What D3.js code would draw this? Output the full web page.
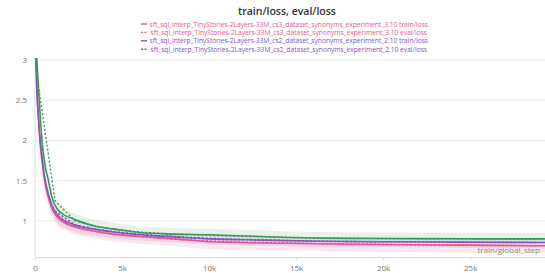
<!DOCTYPE html>
<html>
<head>
<meta charset="utf-8">
<script src="https://cdn.jsdelivr.net/npm/d3@7"></script>
<style>
  body { margin: 0; background: #fff; }
  text { font-family: "Open Sans", "Noto Sans", sans-serif; }
</style>
</head>
<body>
<script>
// train steps and smoothed values
var steps = [0, 100, 200, 300, 400, 550, 770, 960, 1300, 1620, 2000, 2600, 3540, 4500, 6000, 8000, 10000, 13000, 16400, 20000, 23000, 26000, 29300];
var greenTrain = [3.6, 3.05, 2.65, 2.3, 2.0, 1.72, 1.5, 1.3, 1.14, 1.08, 1.04, 0.99, 0.93, 0.9, 0.855, 0.835, 0.826, 0.805, 0.785, 0.78, 0.778, 0.776, 0.775];
var purpleTrain = [3.5, 2.7, 2.3, 2.0, 1.8, 1.55, 1.33, 1.2, 1.07, 1.01, 0.97, 0.93, 0.89, 0.86, 0.826, 0.8, 0.776, 0.76, 0.745, 0.74, 0.736, 0.733, 0.73];
var pinkTrain = [3.5, 2.65, 2.25, 1.95, 1.75, 1.5, 1.29, 1.16, 1.04, 0.985, 0.945, 0.905, 0.865, 0.835, 0.805, 0.775, 0.74, 0.725, 0.715, 0.705, 0.7, 0.695, 0.69];

// raw (unsmoothed) spread, upper/lower envelope
var greenHi = [3.6, 3.1, 2.75, 2.4, 2.1, 1.82, 1.6, 1.4, 1.24, 1.17, 1.12, 1.07, 1.01, 0.975, 0.93, 0.91, 0.9, 0.88, 0.86, 0.855, 0.853, 0.85, 0.85];
var greenLo = [3.6, 3.0, 2.6, 2.25, 1.95, 1.68, 1.46, 1.26, 1.1, 1.04, 1.0, 0.95, 0.89, 0.86, 0.815, 0.795, 0.786, 0.765, 0.745, 0.74, 0.738, 0.736, 0.735];
var purpleHi = [3.5, 2.75, 2.35, 2.05, 1.85, 1.6, 1.38, 1.25, 1.12, 1.06, 1.02, 0.98, 0.935, 0.9, 0.865, 0.84, 0.815, 0.8, 0.785, 0.78, 0.776, 0.773, 0.77];
var purpleLo = [3.5, 2.6, 2.2, 1.9, 1.7, 1.45, 1.23, 1.1, 0.97, 0.92, 0.88, 0.84, 0.81, 0.78, 0.755, 0.73, 0.706, 0.69, 0.675, 0.67, 0.666, 0.663, 0.66];
var pinkHi = [3.5, 2.7, 2.3, 2.0, 1.8, 1.55, 1.33, 1.2, 1.08, 1.02, 0.98, 0.94, 0.895, 0.865, 0.835, 0.805, 0.77, 0.755, 0.745, 0.735, 0.73, 0.725, 0.72];
var pinkLo = [3.5, 2.55, 2.15, 1.85, 1.65, 1.4, 1.19, 1.06, 0.94, 0.89, 0.855, 0.815, 0.775, 0.745, 0.715, 0.685, 0.65, 0.635, 0.625, 0.615, 0.61, 0.605, 0.6];

// eval points
var evalSteps = [0, 1150, 2300, 3450, 4600, 5750, 6900, 8050, 9200, 10350, 11500, 12650, 13800, 14950, 16100, 17250, 18400, 19550, 20700, 21850, 23000, 24150, 25300, 26450, 27600, 28750];
var greenEval = [2.98, 1.25, 1.0, 0.935, 0.895, 0.865, 0.848, 0.836, 0.826, 0.818, 0.81, 0.804, 0.798, 0.793, 0.789, 0.786, 0.783, 0.781, 0.779, 0.778, 0.777, 0.776, 0.775, 0.775, 0.774, 0.774];
var purpleEval = [null, 1.12, 0.95, 0.9, 0.865, 0.84, 0.82, 0.805, 0.79, 0.78, 0.772, 0.765, 0.759, 0.753, 0.748, 0.745, 0.742, 0.74, 0.738, 0.737, 0.736, 0.735, 0.734, 0.733, 0.732, 0.731];
var pinkEval = [null, 1.09, 0.925, 0.87, 0.835, 0.81, 0.79, 0.772, 0.758, 0.748, 0.74, 0.733, 0.727, 0.722, 0.717, 0.713, 0.71, 0.707, 0.704, 0.702, 0.7, 0.698, 0.696, 0.694, 0.692, 0.69];

var yTicks = [1, 1.5, 2, 2.5, 3];
var xTicks = [0, 5000, 10000, 15000, 20000, 25000];

var legendNames = [
  "sft_sql_interp_TinyStories-2Layers-33M_cs3_dataset_synonyms_experiment_3.10 train/loss",
  "sft_sql_interp_TinyStories-2Layers-33M_cs3_dataset_synonyms_experiment_3.10 eval/loss",
  "sft_sql_interp_TinyStories-2Layers-33M_cs2_dataset_synonyms_experiment_2.10 train/loss",
  "sft_sql_interp_TinyStories-2Layers-33M_cs2_dataset_synonyms_experiment_2.10 eval/loss"
];

var pink = "#e8558a", purple = "#7e57c2", green = "#3d9a56";

var W = 545, H = 273;
var pLeft = 35, pRight = 545, pTop = 58, pBottom = 257;

var svg = d3.select("body").append("svg").attr("width", W).attr("height", H);

var x = d3.scaleLinear().domain([0, 29300]).range([pLeft, pRight]);
var y = d3.scaleLinear().domain([0.55, 3.025]).range([pBottom, pTop]);

// grid
svg.selectAll(".grid").data(yTicks).enter().append("line")
  .attr("x1", pLeft).attr("x2", pRight)
  .attr("y1", function (d) { return y(d); }).attr("y2", function (d) { return y(d); })
  .attr("stroke", "#eeeeee").attr("stroke-width", 1);

// axes
var yAxis = svg.append("g").attr("transform", "translate(" + pLeft + ",0)")
  .call(d3.axisLeft(y).tickValues(yTicks).tickSize(0).tickPadding(8).tickFormat(d3.format("~g")));
var xAxis = svg.append("g").attr("transform", "translate(0," + pBottom + ")")
  .call(d3.axisBottom(x).tickValues(xTicks).tickSize(3).tickPadding(5)
    .tickFormat(function (d) { return d === 0 ? "0" : d / 1000 + "k"; }));
[yAxis, xAxis].forEach(function (g) {
  g.select(".domain").attr("stroke", "#dddddd");
  g.selectAll(".tick line").attr("stroke", "#dddddd");
  g.selectAll("text").attr("fill", "#777").style("font-size", "8px").style("font-family", "'Open Sans', sans-serif");
});
yAxis.select(".domain").attr("d", "M0," + pTop + "V" + pBottom);

svg.append("defs").append("clipPath").attr("id", "clip")
  .append("rect").attr("x", pLeft).attr("y", pTop).attr("width", pRight - pLeft).attr("height", pBottom - pTop);

var plot = svg.append("g").attr("clip-path", "url(#clip)");

function bandData(hi, lo) {
  return steps.map(function (s, i) { return { s: s, hi: hi[i], lo: lo[i] }; });
}
var area = d3.area().x(function (d) { return x(d.s); })
  .y0(function (d) { return y(d.lo); }).y1(function (d) { return y(d.hi); })
  .curve(d3.curveMonotoneX);

[[greenHi, greenLo, green], [purpleHi, purpleLo, purple], [pinkHi, pinkLo, pink]].forEach(function (b) {
  plot.append("path").datum(bandData(b[0], b[1]))
    .attr("d", area).attr("fill", b[2]).attr("fill-opacity", 0.13);
});

var line = d3.line().defined(function (d) { return d.v != null; })
  .x(function (d) { return x(d.s); }).y(function (d) { return y(d.v); });

function series(st, vals) {
  return st.map(function (s, i) { return { s: s, v: vals[i] }; });
}

[[pinkTrain, pink], [purpleTrain, purple], [greenTrain, green]].forEach(function (t) {
  plot.append("path").datum(series(steps, t[0]))
    .attr("d", line.curve(d3.curveMonotoneX)).attr("fill", "none")
    .attr("stroke", t[1]).attr("stroke-width", 1.6);
});
[[pinkEval, pink], [purpleEval, purple], [greenEval, green]].forEach(function (t) {
  plot.append("path").datum(series(evalSteps, t[0]))
    .attr("d", line.curve(d3.curveLinear)).attr("fill", "none")
    .attr("stroke", t[1]).attr("stroke-width", 1.4).attr("stroke-dasharray", "2,2");
});

// x label
svg.append("text").attr("x", 540).attr("y", 253).attr("text-anchor", "end")
  .attr("fill", "#888").style("font-size", "8px").text("train/global_step");

// title
svg.append("text").attr("x", 287).attr("y", 15).attr("text-anchor", "middle")
  .attr("fill", "#333").style("font-size", "10.5px").style("font-weight", 600)
  .text("train/loss, eval/loss");

// legend
var legColors = [pink, pink, purple, purple];
var leg = svg.selectAll(".leg").data(legendNames).enter().append("g")
  .attr("transform", function (d, i) { return "translate(0," + (24 + i * 8.4) + ")"; });
leg.append("line").attr("x1", 141).attr("x2", 147).attr("y1", 0).attr("y2", 0)
  .attr("stroke", function (d, i) { return legColors[i]; }).attr("stroke-width", 1.4)
  .attr("stroke-dasharray", function (d, i) { return i % 2 ? "2,1.5" : null; });
leg.append("text").attr("x", function (d, i) { return i % 2 ? 150.5 : 149.5; }).attr("y", 2.6)
  .attr("fill", function (d, i) { return legColors[i]; })
  .style("font-size", "7px")
  .attr("textLength", function (d, i) { return i % 2 ? 276.5 : 278.5; })
  .attr("lengthAdjust", "spacingAndGlyphs")
  .text(function (d) { return d; });
</script>
</body>
</html>
